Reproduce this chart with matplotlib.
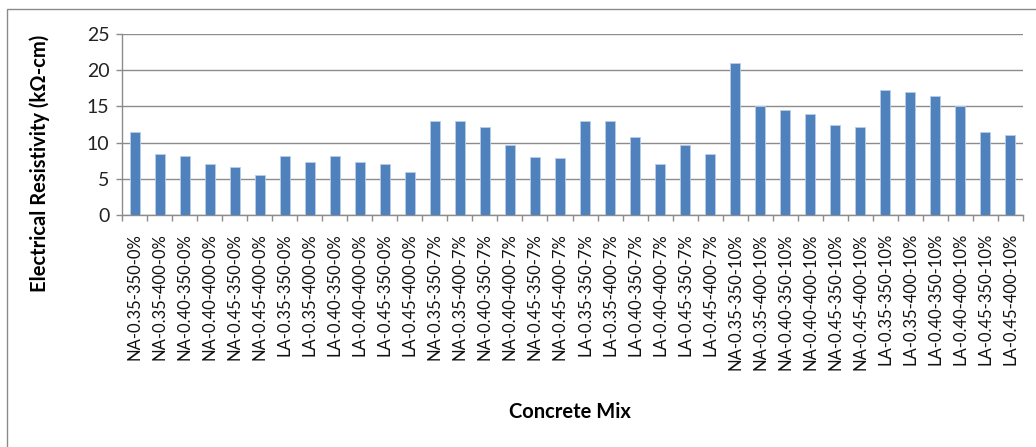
import matplotlib
matplotlib.use("Agg")
import matplotlib.pyplot as plt
from matplotlib.patches import Rectangle

# Mix designations: aggregate type - w/c ratio - cement content - replacement level
aggregate = ["NA"] * 6 + ["LA"] * 6
wc_ratio = ["0.35", "0.35", "0.40", "0.40", "0.45", "0.45"] * 2
cement = ["350", "400"] * 6
replacement = ["0%", "7%", "10%"]

mixes = [f"{a}-{w}-{c}-{r}"
         for r in replacement
         for a, w, c in zip(aggregate, wc_ratio, cement)]

# Electrical resistivity (kOhm-cm) per mix, in the same order as `mixes`
resistivity_0 = [11.4, 8.4, 8.1, 7.0, 6.6, 5.5, 8.1, 7.3, 8.2, 7.3, 7.0, 6.0]
resistivity_7 = [13.0, 13.0, 12.1, 9.6, 8.0, 7.9, 13.0, 13.0, 10.8, 7.1, 9.6, 8.4]
resistivity_10 = [21.0, 15.0, 14.5, 14.0, 12.4, 12.1, 17.3, 17.0, 16.4, 15.0, 11.4, 11.0]
resistivity = resistivity_0 + resistivity_7 + resistivity_10

y_ticks = [0, 5, 10, 15, 20, 25]

font = ["Lato", "DejaVu Sans"]
plt.rcParams["font.family"] = font

fig = plt.figure(figsize=(10.36, 4.47), dpi=100)
ax = fig.add_axes([122 / 1036, 1 - 215 / 447, (1023 - 122) / 1036, (215 - 34) / 447])

# Chart-area frame
fig.patches.append(Rectangle((7 / 1036, -0.1), 1.2, 1 - 9 / 447 + 0.1,
                             transform=fig.transFigure, fill=False,
                             edgecolor="#8a8a8a", linewidth=1.0, zorder=0))

x = list(range(len(mixes)))
ax.bar(x, resistivity, width=0.4, color="#4F81BD", edgecolor="#b9cde6",
       linewidth=0.6, zorder=3)

ax.set_xlim(-0.5, len(mixes) - 0.5)
ax.set_ylim(0, 25)
ax.set_yticks(y_ticks)
ax.set_yticklabels([str(v) for v in y_ticks], fontsize=14, color="#222222")
ax.yaxis.grid(True, color="#8c8c8c", linewidth=1.0, zorder=0)
ax.set_axisbelow(True)

# Category labels centred on bars, tick marks on category boundaries
ax.set_xticks(x)
ax.set_xticklabels(mixes, rotation=90, fontsize=12, color="#111111")
ax.tick_params(axis="x", length=0, pad=13)
ax.set_xticks([i - 0.5 for i in range(len(mixes) + 1)], minor=True)
ax.tick_params(axis="x", which="minor", length=4, color="#8c8c8c", width=1)
ax.tick_params(axis="y", length=4, color="#8c8c8c", width=1, pad=5)

for side in ("top", "right"):
    ax.spines[side].set_visible(False)
for side in ("left", "bottom"):
    ax.spines[side].set_color("#8c8c8c")
    ax.spines[side].set_linewidth(1.0)

ax.set_ylabel("Electrical Resistivity (k\u03a9-cm)", fontsize=14.5, fontweight="bold")
ax.yaxis.set_label_coords((50 - 122) / (1023 - 122), (215 - 163) / (215 - 34))
fig.text(570 / 1036, 1 - 412 / 447, "Concrete Mix", fontsize=14.5, fontweight="bold",
         ha="center", va="center")

fig.savefig("out.png", dpi=100)
